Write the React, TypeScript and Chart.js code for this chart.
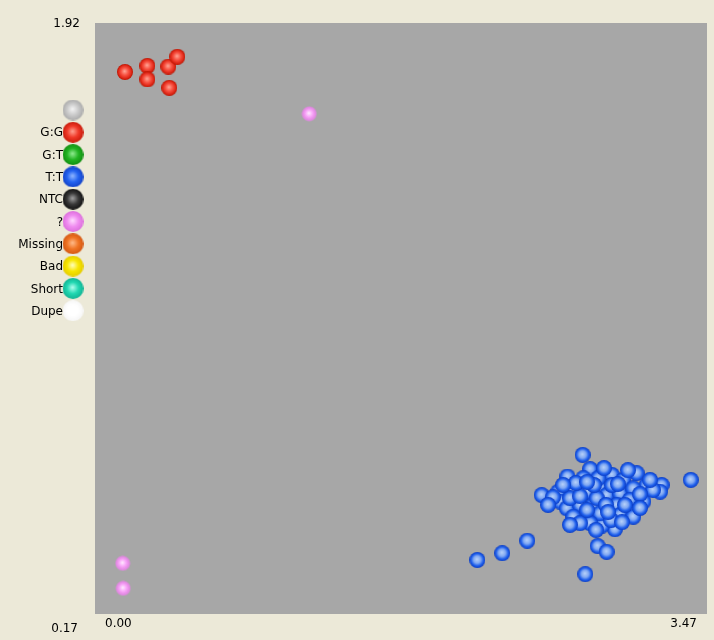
import React, { useEffect, useRef } from 'react';
import { Chart, registerables } from 'chart.js';
Chart.register(...registerables);

// Axis range and tick labels
const xRange = [0.0, 3.47];
const yRange = [0.17, 1.92];
const xTickLabels = ['0.00', '3.47'];
const yTickLabels = ['0.17', '1.92'];

// G:G cluster (red)
const ggX = [0.170, 0.297, 0.297, 0.416, 0.467, 0.421];
const ggY = [1.775, 1.793, 1.753, 1.791, 1.820, 1.728];

// T:T cluster (blue)
const ttX = [
  2.765, 3.378, 2.533, 2.451, 2.309, 2.168, 2.850, 2.901, 2.780, 2.948,
  2.875, 2.679, 2.807, 2.930, 3.071, 2.995, 3.128, 3.213, 3.204, 2.627,
  2.637, 2.712, 2.788, 2.863, 2.901, 2.977, 3.052, 3.109, 3.033, 2.958,
  3.033, 2.977, 3.052, 2.675, 2.750, 2.825, 2.712, 2.788, 2.863, 2.807,
  2.750, 2.845, 2.769, 2.854, 3.164, 2.931, 2.693, 3.005, 2.897, 2.597,
  3.090, 2.829, 2.750, 2.926, 2.886, 3.022, 3.147, 2.727, 2.654, 2.790,
  2.909, 2.988, 2.841, 2.693, 3.090, 2.965, 2.790, 2.569,
];
const ttY = [
  0.641, 0.567, 0.522, 0.387, 0.350, 0.330, 0.371, 0.354, 0.288, 0.421,
  0.432, 0.577, 0.599, 0.582, 0.587, 0.567, 0.552, 0.552, 0.532, 0.532,
  0.503, 0.542, 0.532, 0.547, 0.522, 0.527, 0.542, 0.503, 0.508, 0.493,
  0.473, 0.463, 0.458, 0.483, 0.493, 0.493, 0.458, 0.453, 0.468, 0.439,
  0.439, 0.513, 0.572, 0.572, 0.537, 0.552, 0.513, 0.493, 0.493, 0.516,
  0.525, 0.552, 0.519, 0.448, 0.602, 0.596, 0.567, 0.558, 0.552, 0.478,
  0.472, 0.442, 0.419, 0.434, 0.484, 0.555, 0.561, 0.493,
];

// "?" calls (pink)
const unkX = [1.215, 0.157, 0.160];
const unkY = [1.651, 0.320, 0.246];

// Legend
const legendLabels = ['', 'G:G', 'G:T', 'T:T', 'NTC', '?', 'Missing', 'Bad', 'Short', 'Dupe'];
const legendHi = ['#F4F4F4', '#FFA292', '#92EC92', '#92B8FF', '#A0A0A0', '#FFDCFF', '#FFBC8C', '#FFFFC0', '#B0FFEE', '#FFFFFF'];
const legendBase = ['#CACACA', '#F03828', '#22B422', '#2262F0', '#383838', '#F08CF0', '#F07424', '#F8E600', '#22D8B2', '#FFFFFF'];
const legendEdge = ['#ABABAB', '#C81C0C', '#129012', '#1444C8', '#121212', '#DC70DC', '#D45812', '#E4CC00', '#12B494', '#F6F6F6'];

function sphere(size: number, stops: [number, string][]) {
  const c = document.createElement('canvas');
  c.width = size;
  c.height = size;
  const ctx = c.getContext('2d')!;
  const r = size / 2;
  const g = ctx.createRadialGradient(r * 0.95, r * 0.9, 0, r, r, r);
  stops.forEach(([o, col]) => g.addColorStop(o, col));
  ctx.fillStyle = g;
  ctx.beginPath();
  ctx.arc(r, r, r, 0, Math.PI * 2);
  ctx.fill();
  return c;
}

export default function App() {
  const ref = useRef<HTMLCanvasElement | null>(null);
  useEffect(() => {
    document.body.style.margin = '0';
    const redImg = sphere(16, [[0, '#FFA898'], [0.45, '#F85444'], [0.8, '#E02818'], [1, '#B81400']]);
    const blueImg = sphere(16, [[0, '#B8D2FA'], [0.45, '#80A8F2'], [0.75, '#2060EC'], [1, '#0A3CC4']]);
    const pinkImg = sphere(16, [[0, '#FFECFF'], [0.45, '#F8A4F8'], [0.82, 'rgba(240,128,240,0.8)'], [1, 'rgba(240,128,240,0)']]);
    const legendImgs = legendBase.map((b, i) =>
      sphere(21, [[0, legendHi[i]], [0.55, b], [1, legendEdge[i]]])
    );

    const bgPlugin = {
      id: 'bg',
      beforeDraw(chart: any) {
        const { ctx, chartArea, width, height } = chart;
        ctx.save();
        ctx.fillStyle = '#ECE9D8';
        ctx.fillRect(0, 0, width, height);
        ctx.fillStyle = '#A7A7A7';
        ctx.fillRect(chartArea.left, chartArea.top, chartArea.right - chartArea.left, chartArea.bottom - chartArea.top);
        ctx.restore();
      },
      afterDraw(chart: any) {
        const { ctx, chartArea } = chart;
        ctx.save();
        ctx.fillStyle = '#000000';
        ctx.font = '12px "DejaVu Sans", Tahoma, sans-serif';
        ctx.textBaseline = 'middle';
        // y labels
        ctx.textAlign = 'right';
        ctx.fillText(yTickLabels[1], chartArea.left - 15, chartArea.top + 1);
        ctx.fillText(yTickLabels[0], chartArea.left - 17, chartArea.bottom + 15);
        // x labels
        ctx.textAlign = 'left';
        ctx.fillText(xTickLabels[0], chartArea.left + 10, chartArea.bottom + 10);
        ctx.textAlign = 'right';
        ctx.fillText(xTickLabels[1], chartArea.right - 10, chartArea.bottom + 10);
        // legend
        const cx = 73;
        const y0 = 110;
        const step = 22.3;
        legendLabels.forEach((lab, i) => {
          const cy = y0 + i * step;
          const img = legendImgs[i];
          ctx.drawImage(img, cx - img.width / 2, cy - img.height / 2);
          if (lab) {
            ctx.textAlign = 'right';
            ctx.fillText(lab, cx - 10, cy + 1);
          }
        });
        ctx.restore();
      },
    };

    const toPts = (xs: number[], ys: number[]) => xs.map((x, i) => ({ x, y: ys[i] }));

    const chart = new Chart(ref.current!, {
      type: 'scatter',
      data: {
        datasets: [
          { label: 'G:G', data: toPts(ggX, ggY), pointStyle: redImg as any, pointRadius: 8, pointHoverRadius: 8 },
          { label: 'T:T', data: toPts(ttX, ttY), pointStyle: blueImg as any, pointRadius: 8, pointHoverRadius: 8 },
          { label: '?', data: toPts(unkX, unkY), pointStyle: pinkImg as any, pointRadius: 8, pointHoverRadius: 8 },
        ],
      },
      options: {
        responsive: false,
        animation: false,
        events: [],
        layout: { autoPadding: false, padding: { left: 95, top: 23, right: 7, bottom: 26 } },
        plugins: { legend: { display: false }, tooltip: { enabled: false } },
        scales: {
          x: { type: 'linear', min: xRange[0], max: xRange[1], display: false },
          y: { type: 'linear', min: yRange[0], max: yRange[1], display: false },
        },
      },
      plugins: [bgPlugin],
    });
    return () => chart.destroy();
  }, []);
  return <canvas ref={ref} width={714} height={640} style={{ display: 'block' }} />;
}
